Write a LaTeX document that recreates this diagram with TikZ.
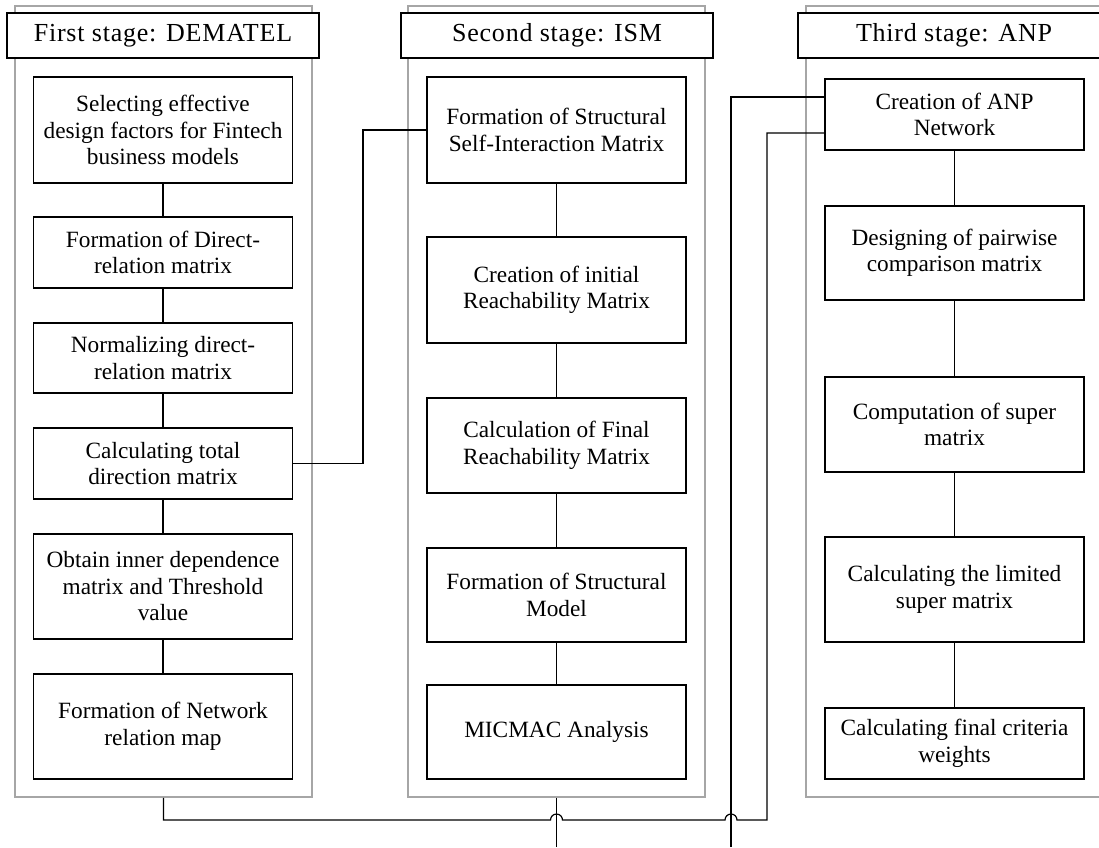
\documentclass[tikz,border=0pt]{standalone}
\usepackage{fontspec}
\setmainfont{Liberation Serif}
\newcommand{\myBody}{\fontsize{23.3}{26.5}\selectfont}
\newcommand{\myHead}{\fontsize{26}{29}\selectfont\addfontfeature{LetterSpace=3}}
\definecolor{framegray}{HTML}{A6A6A6}
\tikzset{
  stepbox/.style={draw=black, line width=1.2pt, fill=white, minimum width=259pt, inner sep=0pt, align=center, font=\myBody},
  headbox/.style={draw=black, line width=1.2pt, fill=white, minimum width=312pt, minimum height=45pt, inner sep=0pt, font=\myHead},
  stageframe/.style={draw=framegray, line width=1.5pt, minimum width=297pt, minimum height=791pt, inner sep=0pt},
  conn/.style={draw=black, line width=1.2pt},
}
\begin{document}
\begin{tikzpicture}[x=1pt,y=-1pt]
\useasboundingbox (0,0) rectangle (1099,847);
\clip (0,0) rectangle (1099,847);
\fill[white] (0,0) rectangle (1099,847);

% stage frames
\node[stageframe] (FL) at (163.5,401.5) {};
\node[stageframe] (FM) at (556.5,401.5) {};
\node[stageframe] (FR) at (954.5,401.5) {};

% headers
\node[headbox] (HL) at (163,35.5) {First stage: DEMATEL};
\node[headbox] (HM) at (557,35.5) {Second stage: ISM};
\node[headbox] (HR) at (954,35.5) {Third stage: ANP};

% first stage
\node[stepbox, minimum height=106pt] (L1) at (163,130) {Selecting effective\\design factors for Fintech\\business models};
\node[stepbox, minimum height=71pt] (L2) at (163,252.5) {Formation of Direct-\\relation matrix};
\node[stepbox, minimum height=70pt] (L3) at (163,358) {Normalizing direct-\\relation matrix};
\node[stepbox, minimum height=71pt] (L4) at (163,463.5) {Calculating total\\direction matrix};
\node[stepbox, minimum height=105pt] (L5) at (163,586.5) {Obtain inner dependence\\matrix and Threshold\\value};
\node[stepbox, minimum height=105pt] (L6) at (163,726.5) {Formation of Network\\relation map};

% second stage
\node[stepbox, minimum height=106pt] (M1) at (556.5,130) {Formation of Structural\\Self-Interaction Matrix};
\node[stepbox, minimum height=106pt] (M2) at (556.5,290) {Creation of initial\\Reachability Matrix};
\node[stepbox, minimum height=95pt] (M3) at (556.5,445.5) {Calculation of Final\\Reachability Matrix};
\node[stepbox, minimum height=94pt] (M4) at (556.5,595) {Formation of Structural\\Model};
\node[stepbox, minimum height=94pt] (M5) at (556.5,732) {MICMAC Analysis};

% third stage
\node[stepbox, minimum height=71pt] (R1) at (954.5,114.5) {Creation of ANP\\Network};
\node[stepbox, minimum height=94pt] (R2) at (954.5,253) {Designing of pairwise\\comparison matrix};
\node[stepbox, minimum height=95pt] (R3) at (954.5,424.5) {Computation of super\\matrix};
\node[stepbox, minimum height=105pt] (R4) at (954.5,589.5) {Calculating the limited\\super matrix};
\node[stepbox, minimum height=71pt] (R5) at (954.5,743.5) {Calculating final criteria\\weights};

% vertical connectors inside stages
\draw[conn] (L1.south) -- (L2.north);
\draw[conn] (L2.south) -- (L3.north);
\draw[conn] (L3.south) -- (L4.north);
\draw[conn] (L4.south) -- (L5.north);
\draw[conn] (L5.south) -- (L6.north);
\draw[conn] (M1.south) -- (M2.north);
\draw[conn] (M2.south) -- (M3.north);
\draw[conn] (M3.south) -- (M4.north);
\draw[conn] (M4.south) -- (M5.north);
\draw[conn] (R1.south) -- (R2.north);
\draw[conn] (R2.south) -- (R3.north);
\draw[conn] (R3.south) -- (R4.north);
\draw[conn] (R4.south) -- (R5.north);

% DEMATEL -> ISM
\coordinate (k1) at (363,463.5);
\draw[conn] (L4.east) -- (k1) |- (M1.west);

% bottom routing
\coordinate (b1) at (163.5,820);
\coordinate (b2) at (767,820);
\coordinate (b3) at (767,133);
\coordinate (bm) at (556.5,847);
\coordinate (c1) at (731,847);
\coordinate (c2) at (731,97);
\draw[conn] (FM.south) -- (bm);
\draw[conn] (c1) -- (c2) -- (c2 -| R1.west);
\draw[conn] (FL.south) -- (b1) -- (550.5,820) arc[start angle=180, end angle=360, radius=6]
  -- (725,820) arc[start angle=180, end angle=360, radius=6] -- (b2) -- (b3) -- (b3 -| R1.west);
\end{tikzpicture}
\end{document}
